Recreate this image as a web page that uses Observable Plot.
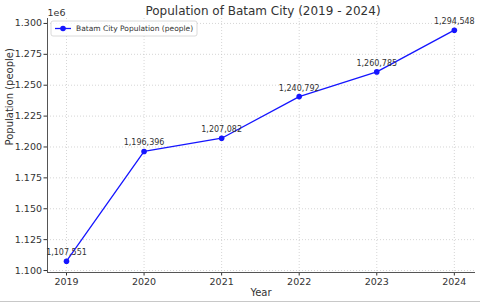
<!DOCTYPE html>
<html>
<head>
<meta charset="utf-8">
<script src="https://cdn.jsdelivr.net/npm/d3@7"></script>
<script src="https://cdn.jsdelivr.net/npm/@observablehq/plot@0.6"></script>
<style>
  html, body { margin: 0; padding: 0; background: #fff; }
  #chart { width: 480px; height: 301px; border-bottom: 1px solid #c8c8c8; overflow: hidden; }
  svg { font-family: "DejaVu Sans", sans-serif; }
</style>
</head>
<body>
<div id="chart"></div>
<script>
const years = [2019, 2020, 2021, 2022, 2023, 2024];
const population = [1107551, 1196396, 1207082, 1240792, 1260785, 1294548];
const yTicks = [1100000, 1125000, 1150000, 1175000, 1200000, 1225000, 1250000, 1275000, 1300000];
const title = "Population of Batam City (2019 - 2024)";
const seriesName = "Batam City Population (people)";
const xLabel = "Year";
const yLabel = "Population (people)";

const data = years.map((y, i) => ({year: y, pop: population[i]}));
const fmt = d3.format(",");
const blue = "#1515ff";
const ink = "#333";
const yFmt = d => (d / 1e6).toFixed(3);
const xFmt = d => String(d);

const plot = Plot.plot({
  width: 480,
  height: 301,
  marginLeft: 47,
  marginRight: 6,
  marginTop: 18,
  marginBottom: 29,
  style: {fontFamily: "DejaVu Sans, sans-serif", fontSize: "9.5px", color: ink, background: "#fff"},
  x: {domain: [2018.755, 2024.26], label: null},
  y: {domain: [1098400, 1304000], label: null},
  marks: [
    Plot.gridX(years, {stroke: "#c4c4c4", strokeOpacity: 1, strokeDasharray: "1,2", strokeWidth: 0.7}),
    Plot.gridY(yTicks, {stroke: "#c4c4c4", strokeOpacity: 1, strokeDasharray: "1,2", strokeWidth: 0.7}),
    Plot.axisX(years, {tickFormat: xFmt, tickSize: 3.5, tickPadding: 2, stroke: ink, fill: ink, fontSize: 9.5, label: null}),
    Plot.axisY(yTicks, {tickFormat: yFmt, tickSize: 3.5, tickPadding: 2, stroke: ink, fill: ink, fontSize: 9.5, label: null}),
    Plot.frame({anchor: "left", stroke: "#555", strokeWidth: 1}),
    Plot.frame({anchor: "bottom", stroke: "#555", strokeWidth: 1}),
    Plot.line(data, {x: "year", y: "pop", stroke: blue, strokeWidth: 1.3}),
    Plot.dot(data, {x: "year", y: "pop", fill: blue, r: 2.8}),
    Plot.text(data, {x: "year", y: "pop", text: d => fmt(d.pop), fill: ink, fontSize: 8, lineAnchor: "bottom", dy: -6}),
    Plot.text([title], {frameAnchor: "top", text: d => d, dy: -4, lineAnchor: "bottom", fontSize: 12, fill: ink, dx: 2}),
    Plot.text(["1e6"], {frameAnchor: "top-left", text: d => d, dy: -3, dx: 0, lineAnchor: "bottom", textAnchor: "start", fontSize: 9.5, fill: ink}),
    Plot.text([xLabel], {frameAnchor: "bottom", text: d => d, dy: 23, lineAnchor: "bottom", fontSize: 10, fill: ink}),
    Plot.text([yLabel], {frameAnchor: "left", text: d => d, dx: -38, rotate: -90, fontSize: 10, fill: ink})
  ]
});

// legend
const svg = d3.select(plot);
const lg = svg.append("g").attr("transform", "translate(51,21)");
lg.append("rect").attr("x", 0).attr("y", 0).attr("width", 146).attr("height", 15)
  .attr("rx", 2).attr("fill", "#fff").attr("fill-opacity", 0.8).attr("stroke", "#d0d0d0").attr("stroke-width", 0.8);
lg.append("line").attr("x1", 4).attr("x2", 20).attr("y1", 7.5).attr("y2", 7.5).attr("stroke", blue).attr("stroke-width", 1.3);
lg.append("circle").attr("cx", 12).attr("cy", 7.5).attr("r", 2.8).attr("fill", blue);
lg.append("text").attr("x", 25).attr("y", 7.5).attr("dy", "0.35em").attr("font-size", 7.5)
  .attr("text-anchor", "start").attr("fill", ink).text(seriesName);

document.getElementById("chart").appendChild(plot);
</script>
</body>
</html>
